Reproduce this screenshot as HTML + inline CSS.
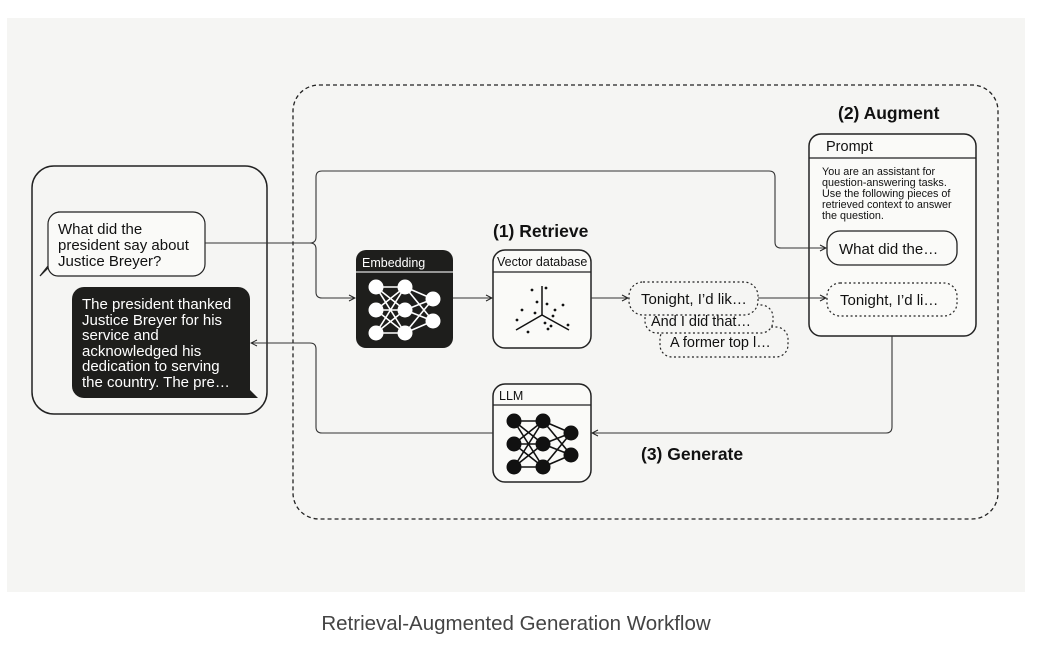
<!DOCTYPE html>
<html><head><meta charset="utf-8"><style>
body{margin:0;background:#fff;width:1041px;height:652px;overflow:hidden}
svg{display:block}
text{font-family:"Liberation Sans",sans-serif;fill:#111}
</style></head><body>
<svg width="1041" height="652" viewBox="0 0 1041 652">
<defs>
<marker id="a" markerWidth="8" markerHeight="8" refX="7" refY="4" orient="auto" markerUnits="userSpaceOnUse"><path d="M1,1 L7,4 L1,7" fill="none" stroke="#222" stroke-width="1"/></marker>
<g id="nn">
<g stroke-width="1.6">
<line x1="0" y1="0" x2="29" y2="0"/><line x1="0" y1="0" x2="29" y2="23"/><line x1="0" y1="0" x2="29" y2="46"/>
<line x1="0" y1="23" x2="29" y2="0"/><line x1="0" y1="23" x2="29" y2="23"/><line x1="0" y1="23" x2="29" y2="46"/>
<line x1="0" y1="46" x2="29" y2="0"/><line x1="0" y1="46" x2="29" y2="23"/><line x1="0" y1="46" x2="29" y2="46"/>
<line x1="29" y1="0" x2="57" y2="12"/><line x1="29" y1="0" x2="57" y2="34"/>
<line x1="29" y1="23" x2="57" y2="12"/><line x1="29" y1="23" x2="57" y2="34"/>
<line x1="29" y1="46" x2="57" y2="12"/><line x1="29" y1="46" x2="57" y2="34"/>
</g>
<circle cx="0" cy="0" r="7"/><circle cx="0" cy="23" r="7"/><circle cx="0" cy="46" r="7"/>
<circle cx="29" cy="0" r="7"/><circle cx="29" cy="23" r="7"/><circle cx="29" cy="46" r="7"/>
<circle cx="57" cy="12" r="7"/><circle cx="57" cy="34" r="7"/>
</g>
</defs>
<rect x="7" y="18" width="1018" height="574" fill="#f5f5f3"/>
<text x="516" y="630" font-size="20.5" text-anchor="middle" style="fill:#444">Retrieval-Augmented Generation Workflow</text>

<rect x="293" y="85" width="705" height="434" rx="26" fill="none" stroke="#222" stroke-width="1.3" stroke-dasharray="4,3"/>

<!-- left panel -->
<rect x="32" y="166" width="235" height="248" rx="22" fill="none" stroke="#222" stroke-width="1.5"/>
<path d="M58,212 H193 a12,12 0 0 1 12,12 V264 a12,12 0 0 1 -12,12 H58 a10,10 0 0 1 -10,-10 L40,276 L48,268 V224 a12,12 0 0 1 12,-12Z" fill="#fafaf8" stroke="#222" stroke-width="1.2"/>
<text font-size="15"><tspan x="58" y="234">What did the</tspan><tspan x="58" y="250">president say about</tspan><tspan x="58" y="266">Justice Breyer?</tspan></text>
<path d="M84,287 H238 a12,12 0 0 1 12,12 V398 H84 a12,12 0 0 1 -12,-12 V299 a12,12 0 0 1 12,-12Z" fill="#1e1e1c"/>
<path d="M250,390 L258,398 L250,398Z" fill="#1e1e1c"/>
<text font-size="15" style="fill:#fff"><tspan x="82" y="309">The president thanked</tspan><tspan x="82" y="325">Justice Breyer for his</tspan><tspan x="82" y="340">service and</tspan><tspan x="82" y="356">acknowledged his</tspan><tspan x="82" y="371">dedication to serving</tspan><tspan x="82" y="387">the country. The pre…</tspan></text>

<!-- Embedding -->
<rect x="356" y="250" width="97" height="98" rx="10" fill="#1e1e1c"/>
<line x1="356" y1="272" x2="453" y2="272" stroke="#ddd" stroke-width="1.2"/>
<text x="362" y="267" font-size="12.5" style="fill:#fff">Embedding</text>
<g fill="#fff" stroke="#fff" transform="translate(376,287)"><use href="#nn"/></g>

<!-- Vector DB -->
<rect x="493" y="250" width="98" height="98" rx="12" fill="#fafaf8" stroke="#222" stroke-width="1.5"/>
<line x1="493" y1="272" x2="591" y2="272" stroke="#222" stroke-width="1.2"/>
<text x="497" y="266" font-size="12.5">Vector database</text>
<g stroke="#111" stroke-width="1.5"><line x1="542" y1="286" x2="542" y2="315"/><line x1="542" y1="315" x2="516" y2="330"/><line x1="542" y1="315" x2="569" y2="330"/></g>
<g fill="#111"><circle cx="532" cy="290" r="1.4"/><circle cx="546" cy="288" r="1.4"/><circle cx="537" cy="302" r="1.4"/><circle cx="547" cy="304" r="1.4"/><circle cx="563" cy="305" r="1.4"/><circle cx="522" cy="310" r="1.4"/><circle cx="555" cy="310" r="1.4"/><circle cx="535" cy="313" r="1.4"/><circle cx="553" cy="316" r="1.4"/><circle cx="517" cy="320" r="1.4"/><circle cx="545" cy="323" r="1.4"/><circle cx="551" cy="326" r="1.4"/><circle cx="548" cy="329" r="1.4"/><circle cx="528" cy="332" r="1.4"/><circle cx="568" cy="325" r="1.4"/></g>

<!-- LLM -->
<rect x="493" y="384" width="98" height="98" rx="12" fill="#fafaf8" stroke="#222" stroke-width="1.5"/>
<line x1="493" y1="405" x2="591" y2="405" stroke="#222" stroke-width="1.2"/>
<text x="499" y="400" font-size="12.5">LLM</text>
<g fill="#111" stroke="#111" transform="translate(514,421)"><use href="#nn"/></g>

<!-- Prompt -->
<rect x="809" y="134" width="167" height="202" rx="12" fill="#fafaf8" stroke="#222" stroke-width="1.5"/>
<line x1="809" y1="158" x2="976" y2="158" stroke="#222" stroke-width="1.2"/>
<text x="826" y="151" font-size="14.5">Prompt</text>
<text font-size="10.8"><tspan x="822" y="175">You are an assistant for</tspan><tspan x="822" y="186">question-answering tasks.</tspan><tspan x="822" y="197">Use the following pieces of</tspan><tspan x="822" y="208">retrieved context to answer</tspan><tspan x="822" y="219">the question.</tspan></text>

<!-- connectors -->
<g fill="none" stroke="#333" stroke-width="1.1">
<path d="M205,243 H310 q6,0 6,-6 V177 q0,-6 6,-6 H769 q6,0 6,6 V242 q0,6 6,6 H826" marker-end="url(#a)"/>
<path d="M310,243 q6,0 6,6 V292 q0,6 6,6 H355" marker-end="url(#a)"/>
<path d="M453,298 H492" marker-end="url(#a)"/>
<path d="M591,298 H628" marker-end="url(#a)"/>
<path d="M758,298 H826" marker-end="url(#a)"/>
<path d="M892,336 V427 q0,6 -6,6 H592" marker-end="url(#a)"/>
<path d="M493,433 H322 q-6,0 -6,-6 V349 q0,-6 -6,-6 H251" marker-end="url(#a)"/>
</g>

<!-- chunks -->
<g fill="#f5f5f3" stroke="#222" stroke-width="1.2" stroke-dasharray="2,2.5">
<rect x="660" y="327" width="128" height="30" rx="12"/>
<rect x="645" y="305" width="128" height="28" rx="12"/>
<rect x="629" y="282" width="129" height="33" rx="14"/>
</g>
<text x="641" y="304" font-size="15">Tonight, I’d lik…</text>
<text x="651" y="326" font-size="14.5">And I did that…</text>
<text x="670" y="347" font-size="14.5">A former top l…</text>

<!-- labels -->
<text x="493" y="237" font-size="17.5" font-weight="bold">(1) Retrieve</text>
<text x="838" y="119" font-size="17.5" font-weight="bold">(2) Augment</text>
<text x="641" y="460" font-size="17.5" font-weight="bold">(3) Generate</text>

<rect x="827" y="231" width="130" height="34" rx="13" fill="#fafaf8" stroke="#222" stroke-width="1.3"/>
<text x="839" y="254" font-size="15">What did the…</text>
<rect x="827" y="283" width="130" height="33" rx="13" fill="#fafaf8" stroke="#222" stroke-width="1.2" stroke-dasharray="2,2.5"/>
<text x="840" y="305" font-size="15">Tonight, I’d li…</text>
</svg>
</body></html>
